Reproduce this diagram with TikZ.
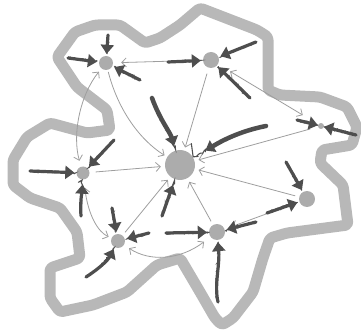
\documentclass[tikz,border=0pt]{standalone}
\usetikzlibrary{arrows.meta,decorations.pathmorphing}
\definecolor{bandc}{RGB}{184,184,184}
\definecolor{dotc}{RGB}{172,172,172}
\definecolor{linkc}{RGB}{158,158,158}
\definecolor{brushc}{RGB}{78,78,78}
\begin{document}
\begin{tikzpicture}[x=1pt,y=-1pt,
  dot/.style={circle,fill=dotc,inner sep=0pt},
  link/.style={draw=linkc,line width=0.8pt,-{Straight Barb[length=4.5pt,width=9pt]}},
  linktwo/.style={draw=linkc,line width=0.8pt,{Straight Barb[length=4.5pt,width=9pt]}-{Straight Barb[length=4.5pt,width=9pt]}},
  push/.style={draw=brushc,line width=3.2pt,line cap=round,-{Triangle[length=9pt,width=13pt]},shorten >=2pt,
    postaction={draw=brushc,-,line width=1.1pt,decorate,decoration={random steps,segment length=1.6pt,amplitude=1.3pt}}}]
\pgfmathsetseed{7}
\useasboundingbox (0,0) rectangle (361,331);
% outline blob
\draw[bandc,line width=11pt,line join=round,rounded corners=3pt]
 (57,57) -- (75,32) -- (95,25) -- (120,25) -- (145,43) -- (160,38) -- (180,25) -- (200,8)
 -- (257,30) -- (268,37) -- (268,90) -- (280,95) -- (320,97) -- (347,107) -- (357,127)
 -- (352,145) -- (322,150) -- (320,163) -- (343,185) -- (348,225) -- (287,233) -- (270,238)
 -- (263,258) -- (253,292) -- (233,318) -- (222,325) -- (215,318) -- (200,292) -- (180,258)
 -- (157,265) -- (127,292) -- (93,305) -- (60,312) -- (50,298) -- (50,268) -- (80,258)
 -- (77,232) -- (60,208) -- (30,198) -- (13,185) -- (13,160) -- (27,137) -- (50,123)
 -- (87,133) -- (110,130) -- (107,110) -- (77,87) -- cycle;
% nodes
\node[dot,minimum size=30pt] (C) at (180,165) {};
\node[dot,minimum size=14pt] (A) at (106,63) {};
\node[dot,minimum size=16pt] (B) at (211,60) {};
\node[dot,minimum size=6pt] (D) at (321,126) {};
\node[dot,minimum size=16pt] (E) at (307,199) {};
\node[dot,minimum size=16pt] (F) at (217,232) {};
\node[dot,minimum size=14pt] (G) at (118,241) {};
\node[dot,minimum size=13pt] (H) at (83,173) {};
% thin links
\draw[link,shorten >=8pt,shorten <=6pt] (B) -- (A);
\draw[linktwo,shorten >=4pt,shorten <=6pt] (H) .. controls (72,135) and (80,95) .. (A);
\draw[link,shorten >=3pt,shorten <=2pt] (A) .. controls (118,110) and (140,140) .. (C);
\draw[link,shorten >=3pt,shorten <=6pt] (B) -- (C);
\draw[linktwo,shorten >=18pt,shorten <=14pt] (B) -- (D);
\draw[link,shorten >=4pt,shorten <=8pt] (D) -- (C);
\draw[link,shorten >=4pt,shorten <=4pt] (E) -- (C);
\draw[linktwo,shorten >=4pt,shorten <=8pt] (F) -- (E);
\draw[link,shorten >=4pt,shorten <=4pt] (F) -- (C);
\draw[link,shorten >=4pt,shorten <=4pt] (G) -- (C);
\draw[link,shorten >=4pt,shorten <=6pt] (H) -- (C);
\draw[linktwo,shorten >=3pt,shorten <=8pt] (H) .. controls (88,215) and (98,232) .. (G);
\draw[linktwo,shorten >=8pt,shorten <=6pt] (G) .. controls (150,262) and (180,260) .. (F);
% brush arrows
\coordinate (t1) at (108,35);
\coordinate (t2) at (68,58);
\coordinate (t3) at (140,80);
\coordinate (t4) at (168,62);
\coordinate (t5) at (256,42);
\coordinate (t6) at (250,98);
\coordinate (t7) at (297,120);
\coordinate (t8) at (356,135);
\coordinate (t9) at (152,98);
\coordinate (t10) at (266,126);
\coordinate (t11) at (114,140);
\coordinate (t12) at (30,171);
\coordinate (t13) at (81,216);
\coordinate (t14) at (162,216);
\coordinate (t15) at (286,162);
\coordinate (t16) at (267,213);
\coordinate (t17) at (256,222);
\coordinate (t18) at (166,233);
\coordinate (t19) at (218,302);
\coordinate (t20) at (112,208);
\coordinate (t21) at (149,233);
\coordinate (t22) at (86,277);
\draw[push] (t1) -- (A);
\draw[push] (t2) -- (A);
\draw[push] (t3) -- (A);
\draw[push] (t4) -- (B);
\draw[push] (t5) -- (B);
\draw[push] (t6) -- (B);
\draw[push,shorten >=0pt] (t7) -- (D);
\draw[push,shorten >=0pt] (t8) -- (D);
\draw[push,line width=4.5pt,shorten >=5pt] (t9) .. controls (160,120) and (170,132) .. (C);
\draw[push,line width=4.5pt,shorten >=14pt] (t10) .. controls (235,132) and (215,145) .. (C);
\draw[push] (t11) -- (H);
\draw[push] (t12) -- (H);
\draw[push,shorten >=5pt] (t13) .. controls (80,200) and (82,192) .. (H);
\draw[push,shorten >=6pt] (t14) -- (C);
\draw[push] (t15) -- (E);
\draw[push] (t16) -- (E);
\draw[push] (t17) -- (F);
\draw[push] (t18) -- (F);
\draw[push] (t19) .. controls (214,285) and (220,265) .. (F);
\draw[push] (t20) -- (G);
\draw[push] (t21) -- (G);
\draw[push] (t22) .. controls (100,268) and (108,260) .. (G);
\end{tikzpicture}
\end{document}
